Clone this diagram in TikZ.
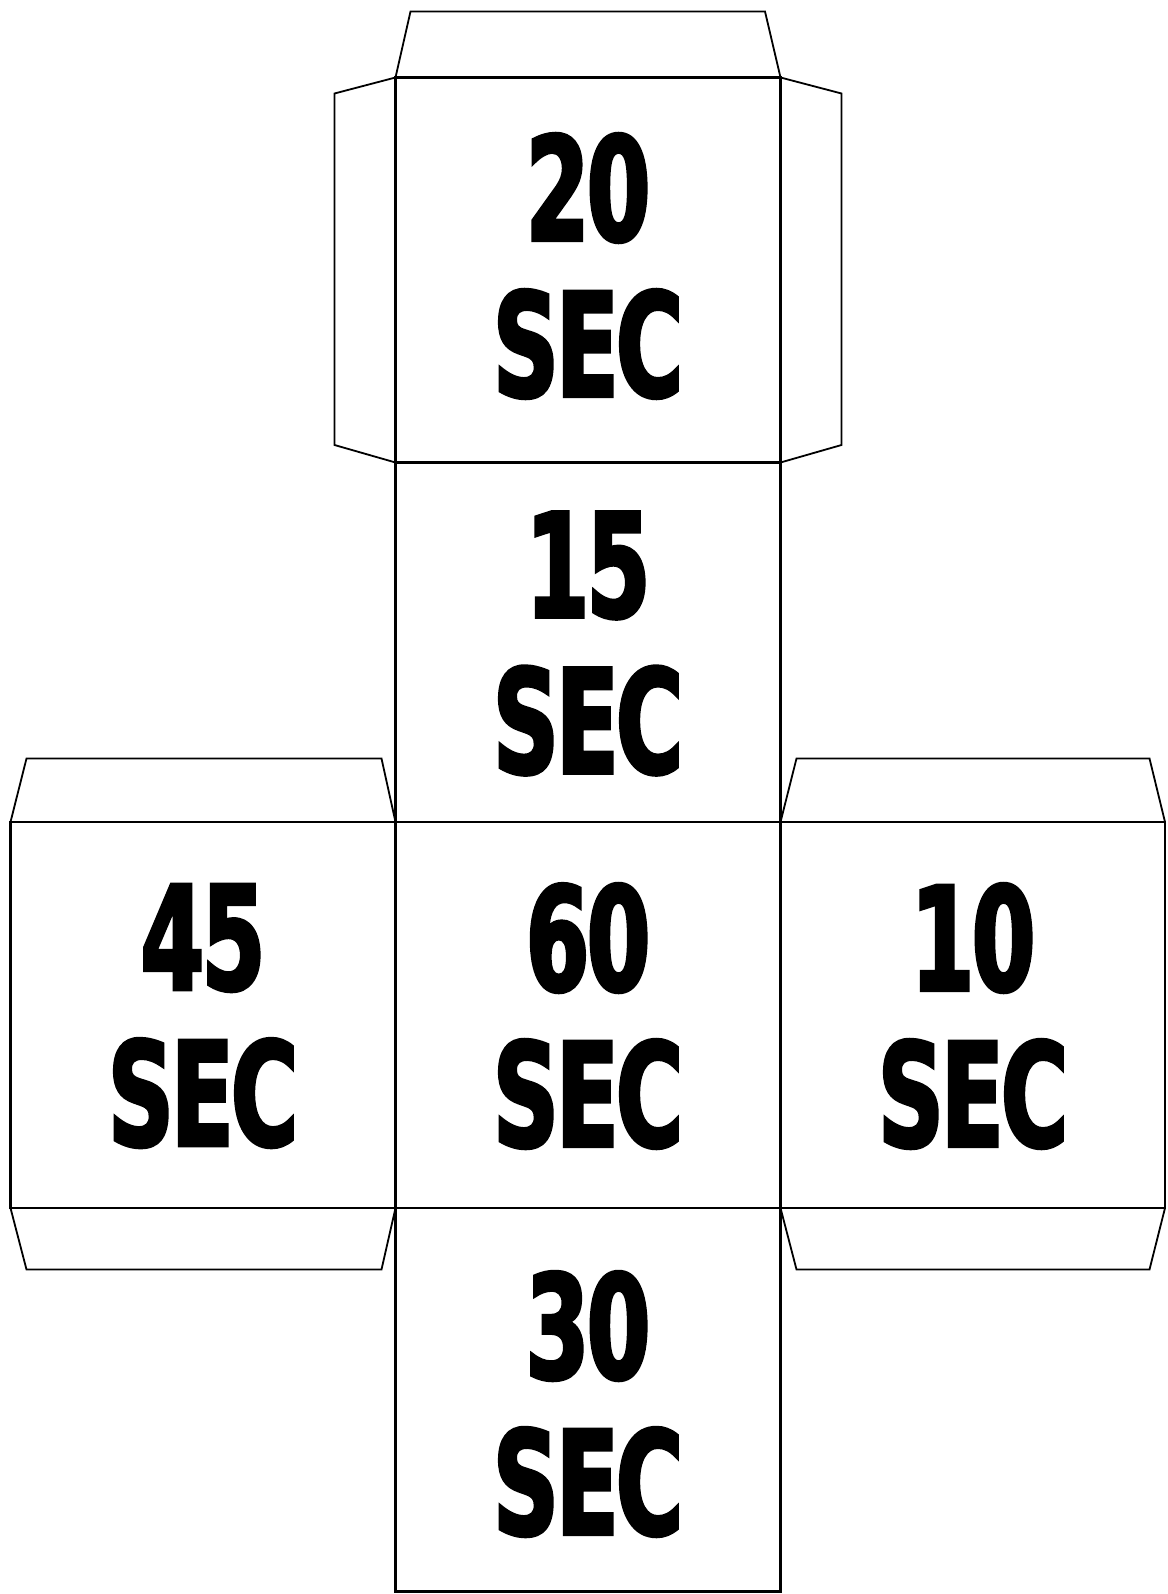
\documentclass[tikz,border=0pt]{standalone}
\usepackage{fontspec}
\newfontfamily\secfont{DejaVu Sans}[FakeStretch=0.63, FakeBold=2.5, LetterSpace=-1.5]
\newlength{\du}
\setlength{\du}{0.5pt}
\tikzset{
  face/.style={line width=1.25pt, line join=miter},
  flap/.style={line width=0.9pt, line join=miter},
  secnum/.style={align=center, inner sep=0pt,
    font=\secfont\bfseries\fontsize{72}{78}\selectfont}
}

\begin{document}
\begin{tikzpicture}
\pgftransformxscale{1.000000}
\pgftransformyscale{-1.000000}
\useasboundingbox (0,0) rectangle (1167\du,1594\du);

% flaps
\draw[flap] (395.5\du,77.5\du)--(410.5\du,11.5\du)--(765\du,11.5\du)--(780.5\du,77.5\du);
\draw[flap] (395.5\du,77.5\du)--(334.5\du,93.5\du)--(334.5\du,445\du)--(395.5\du,462.5\du);
\draw[flap] (780.5\du,77.5\du)--(841.5\du,93.5\du)--(841.5\du,445\du)--(780.5\du,462.5\du);
\draw[flap] (10.5\du,822\du)--(26.5\du,758.5\du)--(381.5\du,758.5\du)--(395.5\du,822\du);
\draw[flap] (10.5\du,1208\du)--(26.5\du,1269.5\du)--(381.5\du,1269.5\du)--(395.5\du,1208\du);
\draw[flap] (780.5\du,822\du)--(796.5\du,758.5\du)--(1149.5\du,758.5\du)--(1165\du,822\du);
\draw[flap] (780.5\du,1208\du)--(796.5\du,1269.5\du)--(1149.5\du,1269.5\du)--(1165\du,1208\du);

% faces
\draw[face] (395.5\du,77.5\du) rectangle (780.5\du,462.5\du);
\draw[face] (395.5\du,462.5\du) rectangle (780.5\du,822\du);
\draw[face] (395.5\du,822\du) rectangle (780.5\du,1208\du);
\draw[face] (395.5\du,1208\du) rectangle (780.5\du,1591.5\du);
\draw[face] (10.5\du,822\du) rectangle (395.5\du,1208\du);
\draw[face] (780.5\du,822\du) rectangle (1165\du,1208\du);

\node[secnum] (f20) at (588\du,266\du) {20\\SEC};
\node[secnum] (f15) at (588\du,643.5\du) {15\\SEC};
\node[secnum] (f60) at (588\du,1016\du) {60\\SEC};
\node[secnum] (f30) at (588\du,1404\du) {30\\SEC};
\node[secnum] (f45) at (203\du,1016\du) {45\\SEC};
\node[secnum] (f10) at (973\du,1016\du) {10\\SEC};

\end{tikzpicture}
\end{document}
